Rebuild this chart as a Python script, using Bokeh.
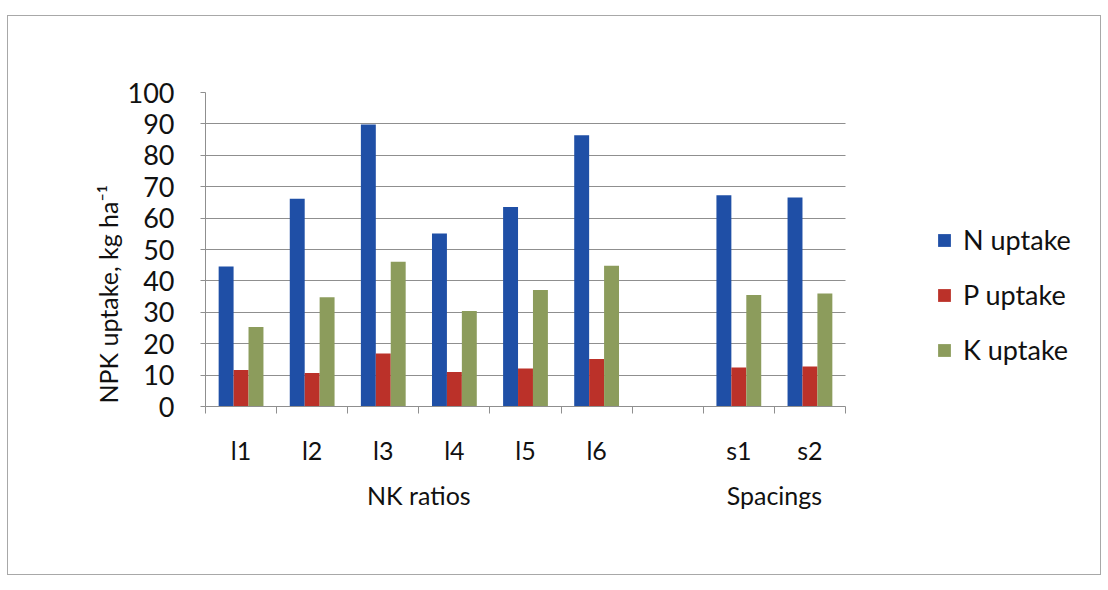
from bokeh.plotting import figure
from bokeh.models import Range1d, FixedTicker, LinearAxis, Legend, LegendItem, Title
from bokeh.embed import file_html
from bokeh.resources import INLINE

# Nutrient uptake per treatment (kg/ha)
categories = ["l1", "l2", "l3", "l4", "l5", "l6", "s1", "s2"]
groups = ["NK ratios", "Spacings"]
group_sizes = [6, 2]
n_uptake = [44.6, 66.2, 89.8, 55.1, 63.5, 86.4, 67.3, 66.6]
p_uptake = [11.6, 10.7, 16.9, 11.0, 12.1, 15.1, 12.4, 12.7]
k_uptake = [25.3, 34.8, 46.1, 30.4, 37.1, 44.8, 35.5, 36.0]
series_names = ["N uptake", "P uptake", "K uptake"]
y_ticks = list(range(0, 101, 10))

FONT = "Lato"
TXT = "#111111"
GRID = "#8f8f8f"
colors = ["#1f4fa6", "#bb3129", "#8c9c5c"]

# slot layout: one empty slot between the two groups
slots, group_centers, pos = [], [], 0
for size in group_sizes:
    group_centers.append(pos + size / 2)
    slots.extend(pos + i + 0.5 for i in range(size))
    pos += size + 1
n_slots = pos - 1

# canvas geometry (px); the bar area is 640 px wide, the rest of the
# frame to its right holds the legend
W, H = 1094, 560
LEFT, RIGHT, TOP, BOTTOM = 197, 5, 76, 170
BAR_AREA = 640
x_end = n_slots * (W - LEFT - RIGHT) / BAR_AREA

p = figure(width=W, height=H, output_backend="svg", toolbar_location=None,
           x_range=Range1d(0, x_end), y_range=Range1d(0, 100),
           min_border_left=LEFT, min_border_right=RIGHT, min_border_top=TOP,
           min_border_bottom=BOTTOM)
p.styles = {"margin-left": "7px", "margin-top": "15px", "border": "1px solid #a8a8a8"}
p.outline_line_color = None
p.background_fill_color = "white"
p.border_fill_color = "white"

bar_w = 0.21
renderers = []
for k, (vals, col) in enumerate(zip([n_uptake, p_uptake, k_uptake], colors)):
    xs = [s + (k - 1) * bar_w for s in slots]
    r = p.vbar(x=xs, top=vals, width=bar_w, bottom=0, fill_color=col, line_color=None)
    renderers.append(r)

# y axis
p.yaxis.ticker = FixedTicker(ticks=y_ticks)
p.yaxis.axis_line_color = GRID
p.yaxis.major_tick_line_color = GRID
p.yaxis.major_tick_out = 5
p.yaxis.major_tick_in = 0
p.yaxis.minor_tick_line_color = None
p.yaxis.major_label_standoff = 26
p.yaxis.major_label_text_font = FONT
p.yaxis.major_label_text_font_size = "27px"
p.yaxis.major_label_text_color = TXT
p.ygrid.ticker = FixedTicker(ticks=y_ticks)
p.ygrid.grid_line_color = GRID
p.ygrid.cross_bounds = (0, n_slots)
p.xgrid.grid_line_color = None

# x axis: labels at slot centres, tick marks on slot boundaries
xa = p.xaxis[0]
xa.bounds = (0, n_slots)
xa.ticker = FixedTicker(ticks=slots, minor_ticks=list(range(n_slots + 1)))
xa.major_label_overrides = {s: c for s, c in zip(slots, categories)}
xa.axis_line_color = GRID
xa.major_tick_line_color = None
xa.major_tick_out = 7
xa.minor_tick_line_color = GRID
xa.minor_tick_out = 7
xa.minor_tick_in = 0
xa.major_label_standoff = 21
xa.major_label_text_font = FONT
xa.major_label_text_font_size = "25px"
xa.major_label_text_color = TXT

ga = LinearAxis(ticker=FixedTicker(ticks=group_centers),
                major_label_overrides={c: g for c, g in zip(group_centers, groups)},
                axis_line_color=None, major_tick_line_color=None,
                minor_tick_line_color=None, major_tick_out=0, major_tick_in=0,
                major_label_standoff=12, major_label_text_font=FONT,
                major_label_text_font_size="25px", major_label_text_color=TXT)
p.add_layout(ga, "below")

ytitle = Title(text="NPK uptake, kg ha\u207b\u00b9", align="left", offset=3,
               text_font=FONT, text_font_size="25px", text_font_style="normal",
               text_color=TXT, standoff=4)
p.add_layout(ytitle, "left")

legend = Legend(items=[LegendItem(label=n, renderers=[r]) for n, r in zip(series_names, renderers)],
                location=(731, 40), border_line_color=None, background_fill_alpha=0,
                padding=10, margin=0, spacing=22, glyph_width=16, glyph_height=16,
                label_height=32, label_standoff=11, label_text_font=FONT,
                label_text_font_size="27px", label_text_color=TXT)
p.add_layout(legend, "center")

open("out.html", "w").write(file_html(p, INLINE))
